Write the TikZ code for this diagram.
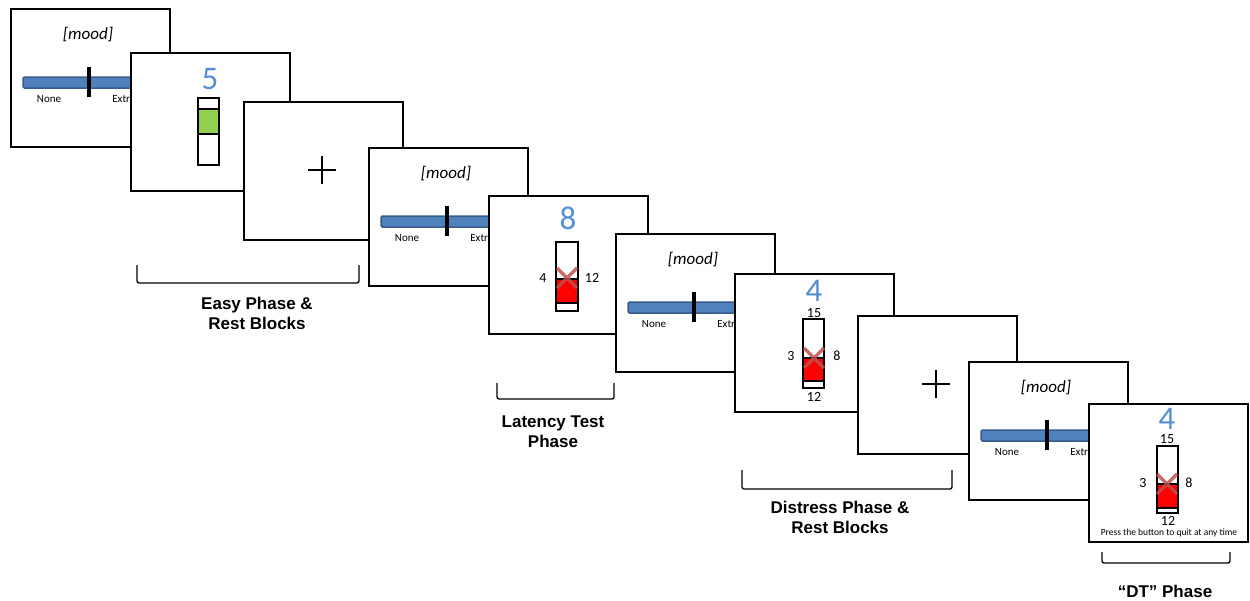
\documentclass[tikz,border=0pt]{standalone}
\usepackage{fontspec}
\setmainfont{Carlito}
\newfontfamily\labelfont{Liberation Sans}
\usetikzlibrary{positioning}
\definecolor{barblue}{HTML}{4F81BD}
\definecolor{baredge}{HTML}{385D8A}
\definecolor{numblue}{HTML}{558ED5}
\definecolor{levelgreen}{HTML}{92D050}
\definecolor{crossred}{HTML}{C0504D}
\tikzset{
    screen/.style={rectangle, draw=black, fill=white, line width=1.5pt, minimum width=159pt, minimum height=138pt, anchor=north west, inner sep=0pt},
    moodbar/.style={draw=baredge, fill=barblue, line width=1.5pt, rounded corners=1.5pt},
    slider/.style={line width=3.5pt},
    moodtext/.style={font=\fontsize{17}{20}\selectfont\itshape, inner sep=0pt},
    scaletext/.style={font=\fontsize{11}{13}\selectfont, inner sep=0pt},
    bignum/.style={font=\fontsize{33}{38}\selectfont, text=numblue, inner sep=0pt},
    smallnum/.style={font=\fontsize{14}{16}\selectfont, inner sep=0pt},
    hint/.style={font=\fontsize{9.5}{11}\selectfont, inner sep=0pt},
    thermo/.style={draw=black, line width=1.5pt},
    xmark/.style={draw=crossred, line width=3.5pt, opacity=0.85},
    fixcross/.style={line width=2pt},
    bracket/.style={line width=1.3pt, rounded corners=2pt},
    phase/.style={font=\labelfont\bfseries\fontsize{17}{20}\selectfont, align=center, inner sep=0pt}
}
% mood rating screen: name, x, y
\newcommand{\moodscreen}[3]{%
    \begin{scope}[shift={(#2,#3)}]
        \node (#1) [screen] at (0,0) {};
        \draw [moodbar] (13,69) rectangle (145,80);
        \draw [slider] (79,59) -- (79,89);
        \node (#1-mood) [moodtext] at (78,27) {[mood]};
        \node (#1-none) [scaletext] at (39,91) {None};
        \node (#1-ext) [scaletext] at (121,91) {Extreme};
    \end{scope}}
% fixation screen: name, x, y
\newcommand{\fixscreen}[3]{%
    \begin{scope}[shift={(#2,#3)}]
        \node (#1) [screen] at (0,0) {};
        \draw [fixcross] (65,69) -- (93,69) (79,55) -- (79,83);
    \end{scope}}

\begin{document}
\begin{tikzpicture}[x=1pt, y=-1pt]
    \useasboundingbox (0,0) rectangle (1250,600);

    % easy phase
    \moodscreen{mood1}{10}{8}
    \begin{scope}[shift={(130,52)}]
        \node (easy) [screen] at (0,0) {};
        \node (easy-num) [bignum] at (80,27) {5};
        \draw [thermo] (68,46) rectangle (89,113);
        \draw [thermo, fill=levelgreen] (68,57) rectangle (89,82);
    \end{scope}
    \fixscreen{fix1}{243}{101}

    % latency test
    \moodscreen{mood2}{368}{147}
    \begin{scope}[shift={(488,195)}]
        \node (lat) [screen] at (0,0) {};
        \node (lat-num) [bignum] at (80,23) {8};
        \draw [thermo] (68,47) rectangle (90,116);
        \draw [thermo, fill=red] (68,84) rectangle (90,108);
        \draw [xmark] (69,73) -- (89,93) (69,93) -- (89,73);
        \node (lat-lo) [smallnum] at (55,83) {4};
        \node (lat-hi) [smallnum] at (104,83) {12};
    \end{scope}

    % distress phase
    \moodscreen{mood3}{615}{233}
    \begin{scope}[shift={(734,273)}]
        \node (dis) [screen] at (0,0) {};
        \node (dis-num) [bignum] at (80,18) {4};
        \node (dis-top) [smallnum] at (80,40) {15};
        \draw [thermo] (69,46) rectangle (90,115);
        \draw [thermo, fill=red] (69,85) rectangle (90,108);
        \draw [xmark] (70,75) -- (90,95) (70,95) -- (90,75);
        \node (dis-lo) [smallnum] at (57,83) {3};
        \node (dis-hi) [smallnum] at (103,83) {8};
        \node (dis-bot) [smallnum] at (80,124) {12};
    \end{scope}
    \fixscreen{fix2}{857}{315}

    % DT phase
    \moodscreen{mood4}{968}{361}
    \begin{scope}[shift={(1088,403)}]
        \node (dt) [screen] at (0,0) {};
        \node (dt-num) [bignum] at (79,16) {4};
        \node (dt-top) [smallnum] at (79,36) {15};
        \draw [thermo] (69,43) rectangle (90,110);
        \draw [thermo, fill=red] (69,81) rectangle (90,105);
        \draw [xmark] (69,71) -- (89,91) (69,91) -- (89,71);
        \node (dt-lo) [smallnum] at (55,80) {3};
        \node (dt-hi) [smallnum] at (101,80) {8};
        \node (dt-bot) [smallnum] at (80,118) {12};
        \node (dt-hint) [hint] at (81,130) {Press the button to quit at any time};
    \end{scope}

    % phase brackets
    \draw [bracket] (137,265) -- (137,283) -- (359,283) -- (359,265);
    \draw [bracket] (497,383) -- (497,399) -- (614,399) -- (614,383);
    \draw [bracket] (742,470) -- (742,489) -- (952,489) -- (952,470);
    \draw [bracket] (1102,552) -- (1102,563) -- (1230,563) -- (1230,552);

    \node (easy-lbl) [phase] at (257,313) {Easy Phase \&\\Rest Blocks};
    \node (lat-lbl) [phase] at (553,432) {Latency Test\\Phase};
    \node (dis-lbl) [phase] at (840,517) {Distress Phase \&\\Rest Blocks};
    \node (dt-lbl) [phase] at (1165,591) {“DT” Phase};
\end{tikzpicture}
\end{document}
